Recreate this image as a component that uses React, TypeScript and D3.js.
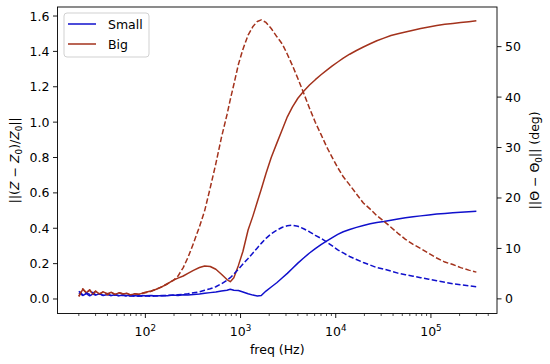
import React from 'react';
import * as d3 from 'd3';

const freq = [20, 22, 24, 26, 28, 30, 33, 36, 40, 44, 48, 53, 58, 64, 70, 77, 85, 93, 100, 115, 130, 150, 170, 195, 220, 250, 280, 320, 370, 420, 480, 550, 630, 720, 780, 850, 950, 1060, 1200, 1350, 1500, 1650, 1850, 2100, 2400, 2750, 3100, 3500, 4000, 4600, 5300, 6100, 7000, 8000, 9200, 10500, 12000, 14000, 16500, 19500, 23000, 27000, 32000, 38000, 45000, 54000, 65000, 78000, 95000, 115000, 140000, 170000, 205000, 250000, 300000];

const smallMag = [0.035, 0.02, 0.03, 0.018, 0.028, 0.022, 0.03, 0.02, 0.026, 0.02, 0.024, 0.018, 0.022, 0.02, 0.018, 0.02, 0.016, 0.02, 0.018, 0.02, 0.017, 0.02, 0.018, 0.022, 0.02, 0.024, 0.022, 0.026, 0.028, 0.032, 0.036, 0.04, 0.045, 0.05, 0.055, 0.05, 0.048, 0.04, 0.03, 0.022, 0.017, 0.02, 0.045, 0.068, 0.092, 0.12, 0.145, 0.172, 0.203, 0.232, 0.26, 0.285, 0.307, 0.327, 0.347, 0.365, 0.38, 0.393, 0.405, 0.416, 0.425, 0.432, 0.438, 0.445, 0.452, 0.459, 0.465, 0.47, 0.475, 0.48, 0.484, 0.488, 0.491, 0.494, 0.496];

const bigMag = [0.015, 0.055, 0.035, 0.05, 0.03, 0.045, 0.028, 0.04, 0.03, 0.038, 0.025, 0.035, 0.028, 0.032, 0.022, 0.03, 0.026, 0.033, 0.038, 0.045, 0.055, 0.07, 0.085, 0.105, 0.118, 0.13, 0.145, 0.162, 0.178, 0.187, 0.184, 0.168, 0.14, 0.11, 0.098, 0.12, 0.19, 0.27, 0.39, 0.47, 0.55, 0.62, 0.71, 0.8, 0.88, 0.96, 1.03, 1.085, 1.135, 1.175, 1.21, 1.24, 1.268, 1.293, 1.318, 1.34, 1.362, 1.384, 1.405, 1.425, 1.443, 1.46, 1.475, 1.49, 1.5, 1.51, 1.52, 1.53, 1.538, 1.546, 1.553, 1.558, 1.563, 1.568, 1.573];

const smallPhase = [1.5, 0.8, 1.2, 0.9, 1.3, 0.8, 1.0, 0.7, 0.9, 0.6, 0.8, 0.6, 0.7, 0.5, 0.6, 0.5, 0.6, 0.5, 0.6, 0.5, 0.6, 0.6, 0.7, 0.7, 0.8, 0.9, 1.0, 1.2, 1.4, 1.7, 2.0, 2.4, 3.0, 3.7, 4.2, 4.9, 5.9, 6.9, 8.0, 9.1, 10.1, 11.0, 12.0, 12.9, 13.6, 14.2, 14.5, 14.6, 14.4, 13.9, 13.3, 12.6, 12.0, 11.3, 10.5, 9.7, 9.1, 8.4, 7.8, 7.2, 6.7, 6.2, 5.9, 5.5, 5.1, 4.8, 4.5, 4.2, 3.9, 3.6, 3.3, 3.0, 2.8, 2.6, 2.4];

const bigPhase = [0.5, 2.0, 1.2, 1.8, 0.9, 1.5, 1.0, 1.4, 0.8, 1.3, 0.9, 1.2, 1.0, 1.1, 0.8, 1.0, 0.9, 1.1, 1.2, 1.5, 1.9, 2.4, 3.0, 3.6, 4.5, 6.2, 8.2, 11.0, 14.3, 17.5, 22.0, 26.8, 32.0, 36.5, 39.5, 42.5, 46.5, 49.5, 52.3, 54.0, 55.0, 55.3, 54.8, 53.6, 52.0, 50.5, 48.5, 46.3, 43.7, 40.8, 37.8, 35.0, 32.6, 30.2, 28.0, 26.0, 24.2, 22.6, 20.8, 19.0, 17.8, 16.5, 15.4, 14.2, 13.0, 11.8, 10.8, 10.0, 9.0, 8.1, 7.3, 6.8, 6.2, 5.7, 5.3];

const xTickExps = [2, 3, 4, 5];
const leftTicks = [0, 0.2, 0.4, 0.6, 0.8, 1.0, 1.2, 1.4, 1.6];
const rightTicks = [0, 10, 20, 30, 40, 50];
const legendLabels = ['Small', 'Big'];

const BLUE = '#1010cc';
const RED = '#a3321c';
const FONT = 'DejaVu Sans, sans-serif';
const FS = 12.5;

export default function App() {
  const L = 57.5, R = 497, T = 7, B = 313.5;
  const x = d3.scaleLog().domain([Math.pow(10, 1.077), Math.pow(10, 5.694)]).range([L, R]);
  const yL = d3.scaleLinear().domain([-0.082, 1.651]).range([B, T]);
  const yR = d3.scaleLinear().domain([-2.9, 57.86]).range([B, T]);

  const idx = freq.map((_, i) => i);
  const lineL = (vals: number[]) => d3.line<number>().x(i => x(freq[i])).y(i => yL(vals[i]))(idx) || '';
  const lineR = (vals: number[]) => d3.line<number>().x(i => x(freq[i])).y(i => yR(vals[i]))(idx) || '';

  const [d0, d1] = x.domain();
  const minor: number[] = [];
  for (let e = 1; e <= 5; e++) {
    for (let k = 2; k <= 9; k++) {
      const v = k * Math.pow(10, e);
      if (v >= d0 && v <= d1) minor.push(v);
    }
  }

  const fmt = (v: number) => v.toFixed(1);

  return (
    <svg width={550} height={364} style={{ position: 'absolute', left: 0, top: 0, background: '#fff' }} fontFamily={FONT}>
      <rect x={0} y={0} width={550} height={364} fill="#fff" />
      <defs>
        <clipPath id="plot">
          <rect x={L} y={T} width={R - L} height={B - T} />
        </clipPath>
      </defs>
      <g clipPath="url(#plot)" fill="none" strokeWidth={1.5} strokeLinejoin="round" strokeLinecap="butt">
        <path d={lineL(smallMag)} stroke={BLUE} />
        <path d={lineL(bigMag)} stroke={RED} />
        <path d={lineR(smallPhase)} stroke={BLUE} strokeDasharray="5.5,2.4" />
        <path d={lineR(bigPhase)} stroke={RED} strokeDasharray="5.5,2.4" />
      </g>
      <rect x={L} y={T} width={R - L} height={B - T} fill="none" stroke="#000" strokeWidth={0.9} />
      {xTickExps.map(e => {
        const px = x(Math.pow(10, e));
        return (
          <g key={'xt' + e}>
            <line x1={px} x2={px} y1={B} y2={B + 4.5} stroke="#000" strokeWidth={0.9} />
            <text x={px} y={336} fontSize={FS} textAnchor="middle" fill="#000">
              10<tspan fontSize={FS * 0.7} dy={-5}>{e}</tspan>
            </text>
          </g>
        );
      })}
      {minor.map((v, i) => (
        <line key={'mx' + i} x1={x(v)} x2={x(v)} y1={B} y2={B + 2.5} stroke="#000" strokeWidth={0.7} />
      ))}
      {leftTicks.map(v => (
        <g key={'yl' + v}>
          <line x1={L - 4.5} x2={L} y1={yL(v)} y2={yL(v)} stroke="#000" strokeWidth={0.9} />
          <text x={L - 8} y={yL(v)} dy="0.36em" fontSize={FS} textAnchor="end" fill="#000">{fmt(v)}</text>
        </g>
      ))}
      {rightTicks.map(v => (
        <g key={'yr' + v}>
          <line x1={R} x2={R + 4.5} y1={yR(v)} y2={yR(v)} stroke="#000" strokeWidth={0.9} />
          <text x={R + 8} y={yR(v)} dy="0.36em" fontSize={FS} textAnchor="start" fill="#000">{v}</text>
        </g>
      ))}
      <text x={(L + R) / 2} y={354} fontSize={FS} textAnchor="middle" fill="#000">freq (Hz)</text>
      <text transform={`translate(19,${(T + B) / 2}) rotate(-90)`} fontSize={FS} textAnchor="middle" fill="#000">
        ||(<tspan fontStyle="italic">Z</tspan> − <tspan fontStyle="italic">Z</tspan><tspan fontSize={FS * 0.7} dy={2.5}>0</tspan><tspan dy={-2.5}>)/</tspan><tspan fontStyle="italic">Z</tspan><tspan fontSize={FS * 0.7} dy={2.5}>0</tspan><tspan dy={-2.5}>||</tspan>
      </text>
      <text transform={`translate(539,${(T + B) / 2}) rotate(-90)`} fontSize={FS} textAnchor="middle" fill="#000">
        ||Θ − Θ<tspan fontSize={FS * 0.7} dy={2.5}>0</tspan><tspan dy={-2.5}>|| (deg)</tspan>
      </text>
      <g>
        <rect x={64} y={13} width={85} height={44} rx={3} fill="#fff" fillOpacity={0.8} stroke="#cccccc" strokeWidth={0.9} />
        {legendLabels.map((lab, i) => (
          <g key={lab}>
            <line x1={68} x2={96} y1={24 + i * 20} y2={24 + i * 20} stroke={i === 0 ? BLUE : RED} strokeWidth={1.5} />
            <text x={108} y={24 + i * 20} dy="0.36em" fontSize={FS} fill="#000">{lab}</text>
          </g>
        ))}
      </g>
    </svg>
  );
}
